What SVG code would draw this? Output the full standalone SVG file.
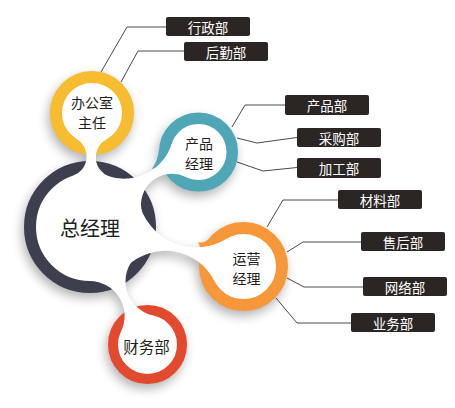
<svg xmlns="http://www.w3.org/2000/svg" width="455" height="408" viewBox="0 0 455 408">
<defs>
<style>
.ln{fill:none;stroke:#4a4a4a;stroke-width:1}
.box{fill:#2b2523}
.lt{font-family:"Noto Sans CJK SC","Noto Sans",sans-serif;font-size:13.5px;fill:#ffffff;text-anchor:middle;dominant-baseline:central}
.ct{font-family:"Noto Sans CJK SC","Noto Sans",sans-serif;font-size:14px;fill:#231f20;text-anchor:middle;dominant-baseline:central}
.bg{font-size:20px}
.wh{fill:#ffffff}
</style>
<filter id="sh" x="0" y="0" width="455" height="408" filterUnits="userSpaceOnUse">
<feGaussianBlur stdDeviation="5.5"/>
<feOffset dx="-2" dy="5"/>
</filter>
</defs>
<rect width="455" height="408" fill="#ffffff"/>
<g id="connectors">
<polyline class="ln" points="166,27 127,27 101,72"/>
<polyline class="ln" points="184,51 138,51 121,82"/>
<polyline class="ln" points="285,105 245,105 232,127"/>
<polyline class="ln" points="297,137.5 257,143 237,138"/>
<polyline class="ln" points="297,167.5 263,171 237,162"/>
<polyline class="ln" points="338,200 283,200 267,227"/>
<polyline class="ln" points="361,242 303,242 287,252"/>
<polyline class="ln" points="363,287 304,287 287,278"/>
<polyline class="ln" points="351,323 297,323 276,298"/>
</g>
<g id="shadow" filter="url(#sh)" fill="#000" opacity="0.3">
<circle cx="90" cy="227" r="66"/>
<circle cx="92" cy="113" r="42"/>
<circle cx="198.5" cy="152" r="39.5"/>
<circle cx="243.5" cy="266.5" r="44.5"/>
<circle cx="147.5" cy="344.5" r="39.5"/>
<path d="M109.05,176.48 A20.5,20.5 0 0 1 106.43,139.31 L76.65,138.79 A20.5,20.5 0 0 1 72.73,175.84 Z"/>
<path d="M142.11,212.86 A31,31 0 0 1 185.95,177.03 L171.79,143.64 A50,50 0 0 1 107.69,175.97 Z"/>
<path d="M127.33,266.03 A55,55 0 0 1 214.47,281.10 L226.69,238.69 A59,59 0 0 1 140.72,208.46 Z"/>
<path d="M89.78,281.0 A35,35 0 0 1 121.04,331.45 L153.44,315.59 A35,35 0 0 1 132.78,259.96 Z"/>
</g>
<g id="n-zjl">
<circle cx="90" cy="227" r="60" fill="#ffffff" stroke="#3d3f4f" stroke-width="12"/>
<text class="ct bg" x="90" y="227">总经理</text>
</g>
<g id="n-bgs">
<circle cx="92" cy="113" r="36" fill="#ffffff" stroke="#f8bc30" stroke-width="12"/>
<text class="ct"><tspan x="92" y="101.5">办公室</tspan><tspan x="92" y="121.9">主任</tspan></text>
</g>
<g id="n-cpjl">
<circle cx="198.5" cy="152" r="33.75" fill="#ffffff" stroke="#4ea6b7" stroke-width="11.5"/>
<path d="M159.15,148.56 Q158.1,160.5 152,169 L161.88,166.8 Z" fill="#4ea6b7"/>
<text class="ct"><tspan x="199" y="142.5">产品</tspan><tspan x="199" y="162.9">经理</tspan></text>
</g>
<g id="n-yyjl">
<circle cx="243.5" cy="266.5" r="38.5" fill="#ffffff" stroke="#f8963a" stroke-width="12"/>
<path d="M209.41,237.9 Q204.27,244.03 198,242 L201.68,251.28 Z" fill="#f8963a"/>
<text class="ct"><tspan x="246.5" y="258">运营</tspan><tspan x="246.5" y="278.4">经理</tspan></text>
</g>
<g id="n-cwb">
<circle cx="147.5" cy="344.5" r="34.5" fill="#ffffff" stroke="#e3492f" stroke-width="10"/>
<text class="ct" x="146.5" y="346" style="font-size:15.5px">财务部</text>
</g>
<g id="junctions" class="wh">
<path d="M109.05,176.48 A20.5,20.5 0 0 1 106.43,139.31 L76.65,138.79 A20.5,20.5 0 0 1 72.73,175.84 Z"/>
<path d="M142.11,212.86 A31,31 0 0 1 185.95,177.03 L171.79,143.64 A50,50 0 0 1 107.69,175.97 Z"/>
<path d="M127.33,266.03 A55,55 0 0 1 214.47,281.10 L226.69,238.69 A59,59 0 0 1 140.72,208.46 Z"/>
<path d="M89.78,281.0 A35,35 0 0 1 121.04,331.45 L153.44,315.59 A35,35 0 0 1 132.78,259.96 Z"/>
</g>
<g id="n-xzb"><rect class="box" x="166" y="17" width="84" height="19" rx="2"/><text class="lt" x="208" y="26.5">行政部</text></g>
<g id="n-hqb"><rect class="box" x="184" y="42" width="84" height="19" rx="2"/><text class="lt" x="226" y="51.5">后勤部</text></g>
<g id="n-cpb"><rect class="box" x="285" y="95" width="84" height="20" rx="2"/><text class="lt" x="327" y="105">产品部</text></g>
<g id="n-cgb"><rect class="box" x="297" y="128" width="84" height="19" rx="2"/><text class="lt" x="339" y="137.5">采购部</text></g>
<g id="n-jgb"><rect class="box" x="297" y="158" width="84" height="20" rx="2"/><text class="lt" x="339" y="168">加工部</text></g>
<g id="n-clb"><rect class="box" x="338" y="190" width="84" height="19" rx="2"/><text class="lt" x="380" y="199.5">材料部</text></g>
<g id="n-shb"><rect class="box" x="361" y="232" width="84" height="19" rx="2"/><text class="lt" x="403" y="241.5">售后部</text></g>
<g id="n-wlb"><rect class="box" x="363" y="277" width="84" height="19" rx="2"/><text class="lt" x="405" y="286.5">网络部</text></g>
<g id="n-ywb"><rect class="box" x="351" y="313" width="84" height="19" rx="2"/><text class="lt" x="393" y="322.5">业务部</text></g>
</svg>
